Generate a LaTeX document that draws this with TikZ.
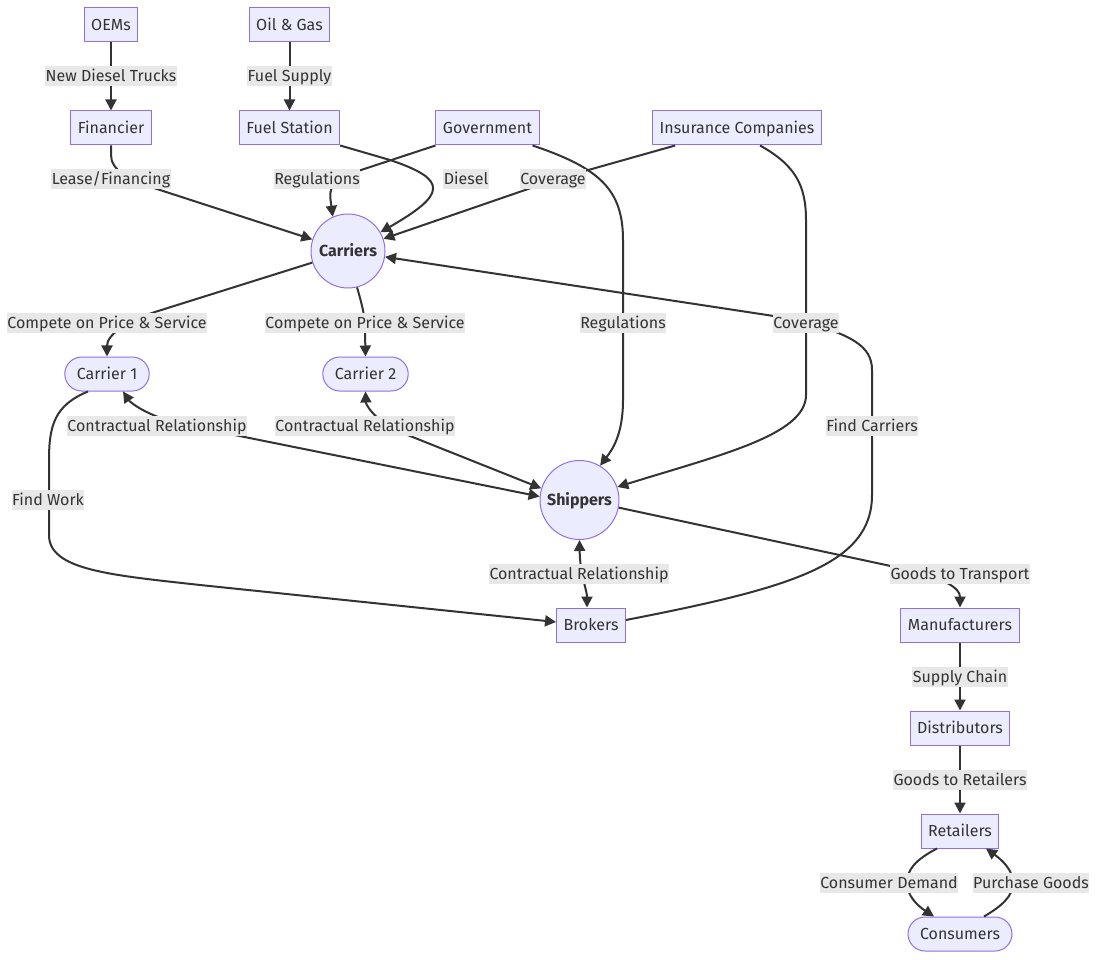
\documentclass[tikz,border=0pt]{standalone}
\usepackage{fontspec}
\setmainfont{Fira Sans}
\usetikzlibrary{arrows.meta}
\definecolor{nfill}{HTML}{ECECFF}
\definecolor{nline}{HTML}{9370DB}
\definecolor{eline}{HTML}{333333}
\definecolor{lbg}{HTML}{E8E8E8}
\begin{document}
\begin{tikzpicture}[x=1pt,y=-1pt,
  font=\fontsize{16}{19}\selectfont, text=eline,
  box/.style={draw=nline, fill=nfill, line width=1pt, inner xsep=7pt, inner ysep=0pt, minimum height=34pt, text height=14pt, text depth=2.8pt},
  pill/.style={box, rounded corners=17pt, inner xsep=12pt},
  circ/.style={circle, draw=nline, fill=nfill, line width=1pt, inner sep=0pt, text height=14pt, text depth=2.8pt, font=\fontsize{16}{19}\selectfont\bfseries},
  lbl/.style={fill=lbg, inner xsep=0.5pt, inner ysep=1.6pt, text height=14pt, text depth=2.8pt},
  arr/.style={draw=eline, line width=2pt, -{Triangle[length=11pt,width=11pt]}},
  darr/.style={draw=eline, line width=2pt, {Triangle[length=11pt,width=11pt]}-{Triangle[length=11pt,width=11pt]}}
]
\fill[white] (0,0) rectangle (1096,960);
\useasboundingbox (0,0) rectangle (1096,960);
% nodes
\node[box] (oems) at (111,25) {OEMs};
\node[box] (oil) at (289.5,25) {Oil \& Gas};
\node[box] (fin) at (111,128) {Financier};
\node[box] (fuel) at (289.5,128) {Fuel Station};
\node[box] (gov) at (487.5,128) {Government};
\node[box] (ins) at (737,128) {Insurance Companies};
\node[circ, minimum size=74pt] (car) at (348,251) {Carriers};
\node[pill] (c1) at (107,374) {Carrier 1};
\node[pill] (c2) at (365.5,374) {Carrier 2};
\node[circ, minimum size=79pt] (ship) at (579.5,500) {Shippers};
\node[box] (brk) at (591,625) {Brokers};
\node[box] (man) at (960,625) {Manufacturers};
\node[box] (dis) at (960,728) {Distributors};
\node[box] (ret) at (960,831) {Retailers};
\node[pill] (con) at (960,934) {Consumers};
% edges
\draw[arr] (oems) -- (fin);
\draw[arr] (oil) -- (fuel);
\draw[arr] (fin.south) -- (111,155) .. controls (111,170) and (128,180) .. (160,190) -- (car);
\draw[arr] (fuel.south east) -- (390,160) .. controls (450,180) and (445,195) .. (car.30);
\draw[arr] (gov.south west) -- (355,172) .. controls (325,182) and (330,195) .. (car.114);
\draw[arr] ([xshift=23pt]ins.south west) -- (560,178) -- (car);
\draw[arr] ([xshift=-7pt]gov.south east) .. controls (600,168) and (623,190) .. (623,240) -- (623,400) .. controls (623,435) and (612,450) .. (ship.59);
\draw[arr] ([xshift=23pt]ins.south) .. controls (795,165) and (806,185) .. (806,220) -- (806,395) .. controls (806,435) and (720,455) .. (ship.19);
\draw[arr] (car.198) -- (155,312) .. controls (125,322) and (107,335) .. (c1.north);
\draw[arr] (car.284) .. controls (362,305) and (365,315) .. (365,330) -- (c2.north);
\draw[darr] ([xshift=16pt]c1.south) .. controls (130,402) and (145,415) .. (180,424) -- (ship.175);
\draw[darr] (c2.south) .. controls (366,405) and (372,415) .. (390,428) -- (ship.163);
\draw[arr] ([xshift=-19pt]c1.south) .. controls (55,405) and (49,425) .. (49,460) -- (49,535) .. controls (49,570) and (110,575) .. (200,585) -- ([yshift=3pt]brk.west);
\draw[darr] (ship.south) .. controls (580,575) and (587,590) .. ([xshift=-4pt]brk.north);
\draw[arr] ([yshift=5pt]brk.east) .. controls (790,588) and (872,565) .. (872,495) -- (872,370) .. controls (872,345) and (850,335) .. (800,320) -- (car.351);
\draw[arr] (ship.349) -- (900,568) .. controls (945,578) and (960,588) .. (man.north);
\draw[arr] (man) -- (dis);
\draw[arr] (dis) -- (ret);
\draw[arr] ([xshift=-23pt]ret.south) .. controls (915,860) and (907,870) .. (907,883) .. controls (907,896) and (918,906) .. ([xshift=-26pt]con.north);
\draw[arr] ([xshift=24pt]con.north) .. controls (1002,906) and (1013,896) .. (1013,883) .. controls (1013,870) and (1002,860) .. ([xshift=26pt]ret.south);
% labels
\node[lbl] (l1) at (111,76) {New Diesel Trucks};
\node[lbl] (l2) at (289.5,76) {Fuel Supply};
\node[lbl] (l3) at (111,179) {Lease/Financing};
\node[lbl] (l4) at (317,179) {Regulations};
\node[lbl] (l5) at (466,179) {Diesel};
\node[lbl] (l6) at (553,179) {Coverage};
\node[lbl] (l7) at (107,323) {Compete on Price \& Service};
\node[lbl] (l8) at (365,323) {Compete on Price \& Service};
\node[lbl] (l9) at (623,323) {Regulations};
\node[lbl] (l10) at (806,323) {Coverage};
\node[lbl] (l11) at (157,426) {Contractual Relationship};
\node[lbl] (l12) at (365,426) {Contractual Relationship};
\node[lbl] (l13) at (872,426) {Find Carriers};
\node[lbl] (l14) at (48,500) {Find Work};
\node[lbl] (l15) at (579,574) {Contractual Relationship};
\node[lbl] (l16) at (960,574) {Goods to Transport};
\node[lbl] (l17) at (960,677) {Supply Chain};
\node[lbl] (l18) at (960,780) {Goods to Retailers};
\node[lbl] (l19) at (889,883) {Consumer Demand};
\node[lbl] (l20) at (1031,883) {Purchase Goods};
\end{tikzpicture}
\end{document}
